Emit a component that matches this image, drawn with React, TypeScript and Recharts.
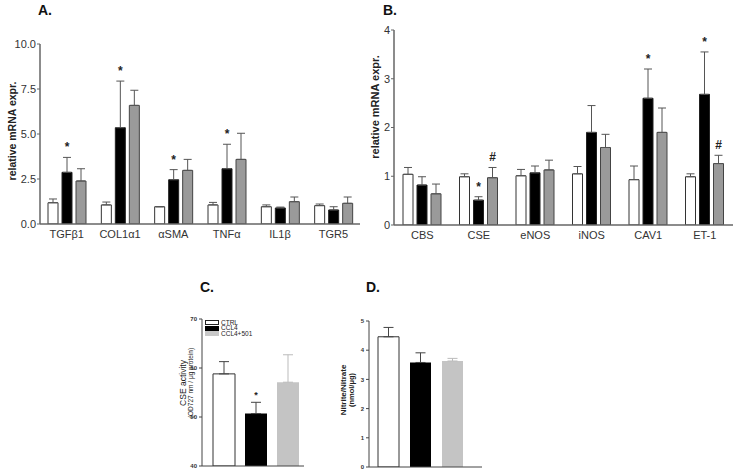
import React from "react";
import { BarChart, Bar, XAxis, YAxis, ErrorBar, LabelList } from "recharts";

const FONT = "'Liberation Sans', Arial, sans-serif";

// Panel A - fibrosis / inflammation genes
const genesA = ["TGFβ1", "COL1α1", "αSMA", "TNFα", "IL1β", "TGR5"];
const ctrlA = [1.18, 1.06, 0.96, 1.06, 0.96, 1.02];
const ctrlErrA = [0.21, 0.16, 0.0, 0.14, 0.1, 0.09];
const ccl4A = [2.87, 5.35, 2.46, 3.07, 0.89, 0.78];
const ccl4ErrA = [0.83, 2.59, 0.56, 1.36, 0.05, 0.18];
const treatA = [2.39, 6.59, 2.98, 3.59, 1.24, 1.15];
const treatErrA = [0.68, 0.84, 0.61, 1.45, 0.26, 0.35];
const ccl4MarksA = ["*", "*", "*", "*", "", ""];
const treatMarksA = ["", "", "", "", "", ""];
const ticksA = [0, 2.5, 5, 7.5, 10];

// Panel B - vascular genes
const genesB = ["CBS", "CSE", "eNOS", "iNOS", "CAV1", "ET-1"];
const ctrlB = [1.04, 0.99, 1.01, 1.05, 0.93, 0.99];
const ctrlErrB = [0.14, 0.06, 0.13, 0.15, 0.28, 0.06];
const ccl4B = [0.82, 0.51, 1.07, 1.9, 2.6, 2.68];
const ccl4ErrB = [0.17, 0.07, 0.14, 0.55, 0.6, 0.87];
const treatB = [0.64, 0.97, 1.13, 1.59, 1.9, 1.26];
const treatErrB = [0.2, 0.21, 0.2, 0.27, 0.5, 0.17];
const ccl4MarksB = ["", "*", "", "", "*", "*"];
const treatMarksB = ["", "#", "", "", "", "#"];
const ticksB = [0, 1, 2, 3, 4];

// Panel C - CSE activity
const groups = ["CTRL", "CCL4", "CCL4+501"];
const cseActivity = [58.8, 50.7, 57.1];
const cseErr = [2.5, 2.3, 5.6];
const cseMarks = ["", "*", ""];
const ticksC = [40, 50, 60, 70];

// Panel D - nitrite/nitrate
const nitrite = [4.46, 3.58, 3.63];
const nitriteErr = [0.32, 0.33, 0.09];
const ticksD = [0, 1, 2, 3, 4, 5];

type Row = Record<string, any>;

const geneRows = (
  names: string[],
  c: number[], ce: number[],
  k: number[], ke: number[], km: string[],
  t: number[], te: number[], tm: string[]
): Row[] =>
  names.map((name, i) => ({
    name,
    ctrl: c[i], ctrlErr: ce[i], ctrlMark: "",
    ccl4: k[i], ccl4Err: ke[i], ccl4Mark: km[i],
    treat: t[i], treatErr: te[i], treatMark: tm[i],
  }));

const rowsA = geneRows(genesA, ctrlA, ctrlErrA, ccl4A, ccl4ErrA, ccl4MarksA, treatA, treatErrA, treatMarksA);
const rowsB = geneRows(genesB, ctrlB, ctrlErrB, ccl4B, ccl4ErrB, ccl4MarksB, treatB, treatErrB, treatMarksB);

const singleRow = (vals: number[], errs: number[], marks: string[]): Row[] => [
  {
    name: "",
    ctrl: vals[0], ctrlErr: errs[0], ctrlMark: marks[0],
    ccl4: vals[1], ccl4Err: errs[1], ccl4Mark: marks[1],
    treat: vals[2], treatErr: errs[2], treatMark: marks[2],
  },
];

const rowsC = singleRow(cseActivity, cseErr, cseMarks);
const rowsD = singleRow(nitrite, nitriteErr, ["", "", ""]);

// significance mark drawn above the error bar, using the bar's own pixel height
const markLabel =
  (rows: Row[], key: string, base: number, fontSize: number, lift: number) =>
  (props: any) => {
    const vb = props.x != null ? props : props.viewBox || {};
    const { x, y, width, height } = vb;
    const row = rows[props.index ?? 0];
    const mark = row?.[key + "Mark"];
    if (!mark || x == null) return null;
    const perUnit = Math.abs(height) / (row[key] - base);
    const top = y - row[key + "Err"] * perUnit;
    return (
      <text
        x={x + width / 2}
        y={top - lift}
        textAnchor="middle"
        fontSize={fontSize}
        fontWeight="bold"
        fontFamily={FONT}
        fill="#222"
      >
        {mark}
      </text>
    );
  };

const VText = ({ x, y, size, bold, children }: any) => (
  <div
    style={{
      position: "absolute",
      left: x,
      top: y,
      transform: "translate(-50%, -50%) rotate(-90deg)",
      whiteSpace: "nowrap",
      fontSize: size,
      fontWeight: bold ? "bold" : "normal",
      fontFamily: FONT,
      color: "#222",
      lineHeight: 1,
    }}
  >
    {children}
  </div>
);

const Title = ({ x, y, children }: any) => (
  <div
    style={{
      position: "absolute",
      left: x,
      top: y,
      fontSize: 14,
      fontWeight: "bold",
      fontFamily: FONT,
      color: "#111",
      lineHeight: 1,
    }}
  >
    {children}
  </div>
);

const tickStyle = { fontSize: 11, fill: "#333", fontFamily: FONT };
const smallTick = { fontSize: 6, fill: "#333", fontFamily: FONT, fontWeight: "bold" };

const GeneChart = ({ rows, ticks, fmt, width, height, margin, yWidth, catGap, left }: any) => (
  <div style={{ position: "absolute", left, top: 0 }}>
    <BarChart
      width={width}
      height={height}
      data={rows}
      margin={margin}
      barCategoryGap={catGap}
      barGap={4}
    >
      <XAxis
        dataKey="name"
        height={30}
        tickLine={false}
        tickSize={4}
        tickMargin={2}
        axisLine={{ stroke: "#666", strokeWidth: 1.5 }}
        tick={tickStyle}
        interval={0}
      />
      <YAxis
        width={yWidth}
        domain={[ticks[0], ticks[ticks.length - 1]]}
        ticks={ticks}
        tickFormatter={fmt}
        tickSize={3}
        tickMargin={1}
        tickLine={{ stroke: "#666" }}
        axisLine={{ stroke: "#666", strokeWidth: 1.5 }}
        tick={tickStyle}
        allowDataOverflow
      />
      <Bar dataKey="ctrl" fill="#fff" stroke="#333" strokeWidth={1} isAnimationActive={false}>
        <ErrorBar dataKey={(d: Row) => [0, d.ctrlErr]} width={4} stroke="#555" strokeWidth={1} isAnimationActive={false} />
      </Bar>
      <Bar dataKey="ccl4" fill="#000" stroke="#222" strokeWidth={1} isAnimationActive={false}>
        <ErrorBar dataKey={(d: Row) => [0, d.ccl4Err]} width={4} stroke="#555" strokeWidth={1} isAnimationActive={false} />
        <LabelList dataKey="ccl4Mark" content={markLabel(rows, "ccl4", 0, 12, 6)} />
      </Bar>
      <Bar dataKey="treat" fill="#9a9a9a" stroke="#444" strokeWidth={1} isAnimationActive={false}>
        <ErrorBar dataKey={(d: Row) => [0, d.treatErr]} width={4} stroke="#555" strokeWidth={1} isAnimationActive={false} />
        <LabelList dataKey="treatMark" content={markLabel(rows, "treat", 0, 12, 6)} />
      </Bar>
    </BarChart>
  </div>
);

const SmallChart = ({ rows, ticks, base, left, width, margin, yWidth, padding, barGap, barSize }: any) => (
  <div style={{ position: "absolute", left, top: 300 }}>
    <BarChart
      width={width}
      height={172}
      data={rows}
      margin={margin}
      barGap={barGap}
      barSize={barSize}
    >
      <XAxis
        dataKey="name"
        height={1}
        tick={false}
        tickLine={false}
        padding={padding}
        axisLine={{ stroke: "#444", strokeWidth: 1 }}
      />
      <YAxis
        width={yWidth}
        domain={[ticks[0], ticks[ticks.length - 1]]}
        ticks={ticks}
        tickSize={3}
        tickMargin={2}
        tickLine={{ stroke: "#444" }}
        axisLine={{ stroke: "#444", strokeWidth: 1 }}
        tick={smallTick}
        allowDataOverflow
      />
      <Bar dataKey="ctrl" fill="#fff" stroke="#333" strokeWidth={1} isAnimationActive={false}>
        <ErrorBar dataKey={(d: Row) => [0, d.ctrlErr]} width={5} stroke="#444" strokeWidth={1} isAnimationActive={false} />
      </Bar>
      <Bar dataKey="ccl4" fill="#000" isAnimationActive={false}>
        <ErrorBar dataKey={(d: Row) => [0, d.ccl4Err]} width={5} stroke="#444" strokeWidth={1} isAnimationActive={false} />
        <LabelList dataKey="ccl4Mark" content={markLabel(rows, "ccl4", base, 9, 4)} />
      </Bar>
      <Bar dataKey="treat" fill="#c4c4c4" isAnimationActive={false}>
        <ErrorBar dataKey={(d: Row) => [0, d.treatErr]} width={5} stroke="#bbb" strokeWidth={1} isAnimationActive={false} />
      </Bar>
    </BarChart>
  </div>
);

const legendFills = ["#fff", "#000", "#c8c8c8"];

const LegendC = () => (
  <div style={{ position: "absolute", left: 205, top: 320, fontFamily: FONT }}>
    {groups.map((g, i) => (
      <div key={g} style={{ display: "flex", alignItems: "center", height: 5.6 }}>
        <div
          style={{
            width: 12,
            height: 3,
            background: legendFills[i],
            border: i === 0 ? "0.8px solid #222" : "0.8px solid " + legendFills[i],
          }}
        />
        <span style={{ fontSize: 6.5, marginLeft: 2, color: "#222", lineHeight: 1 }}>{g}</span>
      </div>
    ))}
  </div>
);

export default function App() {
  return (
    <div
      style={{
        position: "absolute",
        left: 0,
        top: 0,
        width: 733,
        height: 472,
        background: "#fff",
        overflow: "hidden",
      }}
    >
      <GeneChart
        rows={rowsA}
        ticks={ticksA}
        fmt={(v: number) => v.toFixed(1)}
        left={0}
        width={370}
        height={270}
        margin={{ top: 44, right: 10, left: 0, bottom: 16 }}
        yWidth={40}
        catGap={8}
      />
      <GeneChart
        rows={rowsB}
        ticks={ticksB}
        fmt={(v: number) => String(v)}
        left={370}
        width={363}
        height={270}
        margin={{ top: 30, right: 0, left: 0, bottom: 15 }}
        yWidth={24}
        catGap={9}
      />
      <SmallChart
        rows={rowsC}
        ticks={ticksC}
        base={40}
        left={180}
        width={130}
        margin={{ top: 19, right: 6, left: 0, bottom: 5 }}
        yWidth={22}
        padding={{ left: 5, right: 0 }}
        barGap={10}
        barSize={22}
      />
      <SmallChart
        rows={rowsD}
        ticks={ticksD}
        base={0}
        left={340}
        width={150}
        margin={{ top: 21, right: 8, left: 0, bottom: 4 }}
        yWidth={29}
        padding={{ left: 5, right: 15 }}
        barGap={11}
        barSize={21}
      />
      <LegendC />

      <Title x={38} y={3}>A.</Title>
      <Title x={383} y={3}>B.</Title>
      <Title x={200} y={280}>C.</Title>
      <Title x={366} y={280}>D.</Title>

      <VText x={12} y={131} size={10.5} bold>relative mRNA expr.</VText>
      <VText x={375} y={107} size={11} bold>relative mRNA expr.</VText>
      <VText x={183} y={383} size={8.5}>CSE activity</VText>
      <VText x={191} y={383} size={6.5}>(OD727 nm / μg protein)</VText>
      <VText x={344} y={390} size={8} bold>Nitrite/Nitrate</VText>
      <VText x={352} y={390} size={7.5} bold>(nmol/μg)</VText>
    </div>
  );
}
